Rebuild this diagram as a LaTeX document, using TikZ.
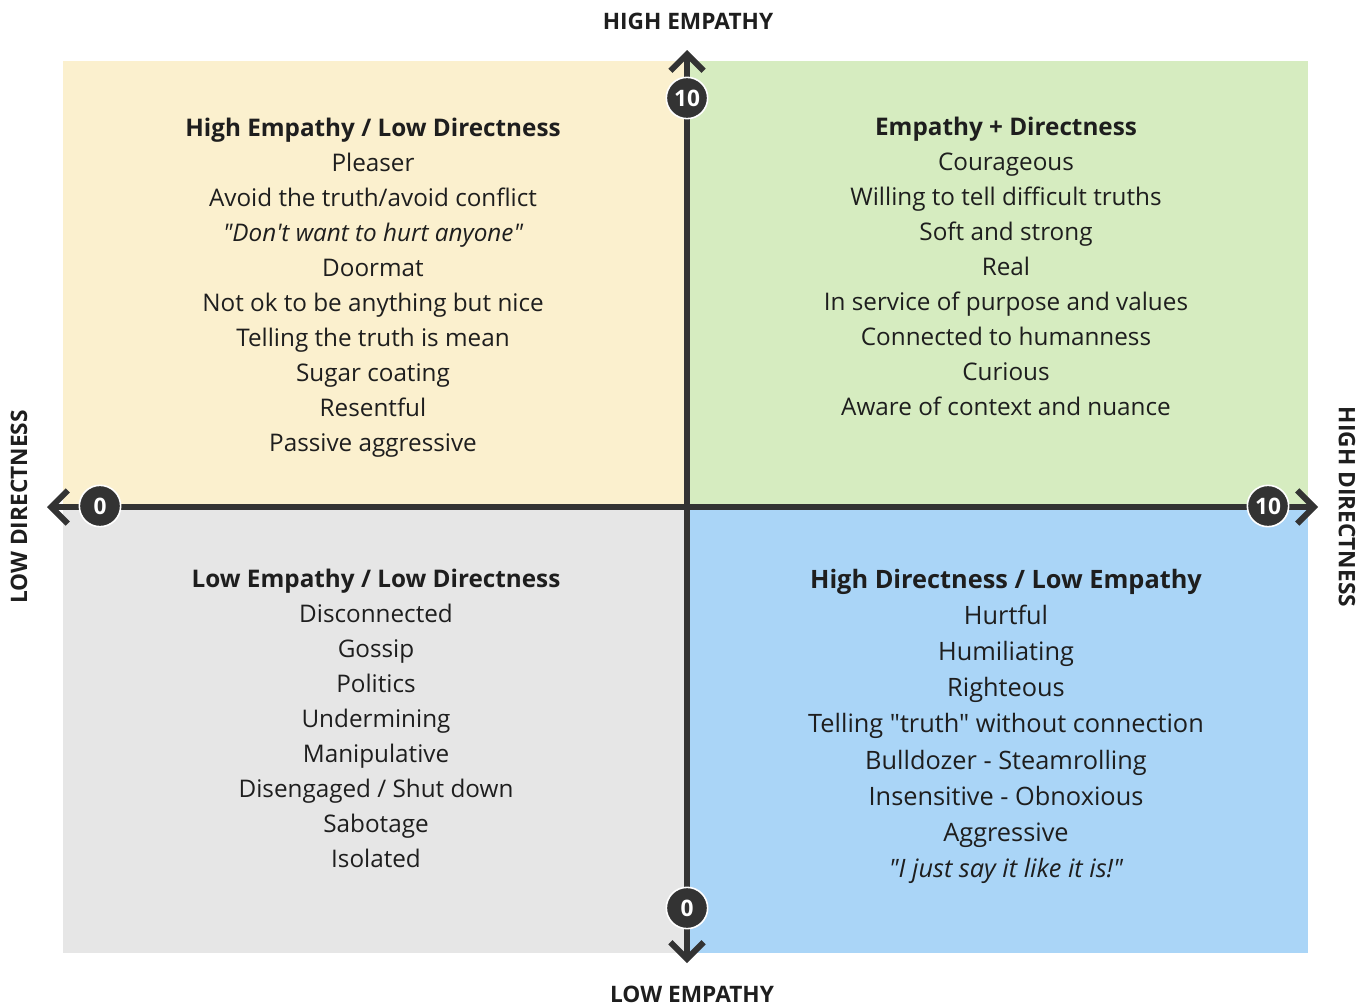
\documentclass[tikz,border=0pt]{standalone}
\usepackage{fontspec}
\setmainfont{Open Sans}[Ligatures=TeXOff]
\usetikzlibrary{arrows.meta}
\definecolor{quadyellow}{HTML}{FBF0CE}
\definecolor{quadgreen}{HTML}{D6ECC0}
\definecolor{quadgray}{HTML}{E6E6E6}
\definecolor{quadblue}{HTML}{AAD5F7}
\definecolor{axisdark}{HTML}{333333}
\definecolor{textdark}{HTML}{1E1E1E}
\tikzset{
  axisline/.style={draw=axisdark, line width=5pt,
    {Straight Barb[length=12.5pt, width=25pt, line width=4.4pt]}-{Straight Barb[length=12.5pt, width=25pt, line width=4.4pt]}},
  marker/.style={circle, fill=axisdark, draw=white, line width=1.2pt, minimum size=31pt,
    inner sep=0pt, text=white, font=\bfseries\fontsize{17}{17}\selectfont},
  axislabel/.style={text=textdark, font=\bfseries\fontsize{17}{18}\selectfont, inner sep=0pt},
  title/.style={text=textdark, font=\bfseries\fontsize{18.2}{20}\selectfont, anchor=base, inner sep=0pt},
  item/.style={text=textdark, font=\fontsize{18.2}{20}\selectfont, anchor=base, inner sep=0pt},
  bigtitle/.style={title, font=\bfseries\fontsize{19}{21}\selectfont},
  bigitem/.style={item, font=\fontsize{19}{21}\selectfont}
}
\begin{document}
\begin{tikzpicture}[x=0.75pt, y=-0.75pt]
\useasboundingbox (0,0) rectangle (1364,1007);
% quadrant backgrounds
\fill[quadyellow] (63,61) rectangle (687,507);
\fill[quadgreen] (687,61) rectangle (1308,507);
\fill[quadgray] (63,507) rectangle (687,953);
\fill[quadblue] (687,507) rectangle (1308,953);

% axis ends
\coordinate (top) at (687,50);
\coordinate (bottom) at (687,963);
\coordinate (left) at (47,507);
\coordinate (right) at (1318,507);
\draw[axisline] (bottom) -- (top);
\draw[axisline] (left) -- (right);

% scale markers
\node[marker] (m10top) at (687,98) {10};
\node[marker] (m0left) at (100,506) {0};
\node[marker] (m10right) at (1268,506) {10};
\node[marker] (m0bottom) at (687,908) {0};

% axis labels
\node[axislabel] (lhighemp) at (688,21) {HIGH EMPATHY};
\node[axislabel] (llowemp) at (692,994) {LOW EMPATHY};
\node[axislabel, rotate=90] (llowdir) at (19,507) {LOW DIRECTNESS};
\node[axislabel, rotate=-90] (lhighdir) at (1347,507) {HIGH DIRECTNESS};

% top-left quadrant
\node[title] (tltitle) at (373,136) {High Empathy / Low Directness};
\foreach \t [count=\i] in {Pleaser, Avoid the truth/avoid conflict,
  {\itshape "Don't want to hurt anyone"}, Doormat, Not ok to be anything but nice,
  Telling the truth is mean, Sugar coating, Resentful, Passive aggressive}
  \node[item] (tl\i) at (373,136+35*\i) {\t};

% top-right quadrant
\node[title] (trtitle) at (1006,135) {Empathy + Directness};
\foreach \t [count=\i] in {Courageous, Willing to tell difficult truths, Soft and strong,
  Real, In service of purpose and values, Connected to humanness, Curious,
  Aware of context and nuance}
  \node[item] (tr\i) at (1006,135+35*\i) {\t};

% bottom-left quadrant
\node[title] (bltitle) at (376,587) {Low Empathy / Low Directness};
\foreach \t [count=\i] in {Disconnected, Gossip, Politics, Undermining, Manipulative,
  Disengaged / Shut down, Sabotage, Isolated}
  \node[item] (bl\i) at (376,587+35*\i) {\t};

% bottom-right quadrant
\node[bigtitle] (brtitle) at (1006,588) {High Directness / Low Empathy};
\foreach \t [count=\i] in {Hurtful, Humiliating, Righteous,
  Telling "truth" without connection, Bulldozer - Steamrolling,
  Insensitive - Obnoxious, Aggressive, {\itshape "I just say it like it is!"}}
  \node[bigitem] (br\i) at (1006,588+36.2*\i) {\t};
\end{tikzpicture}
\end{document}
